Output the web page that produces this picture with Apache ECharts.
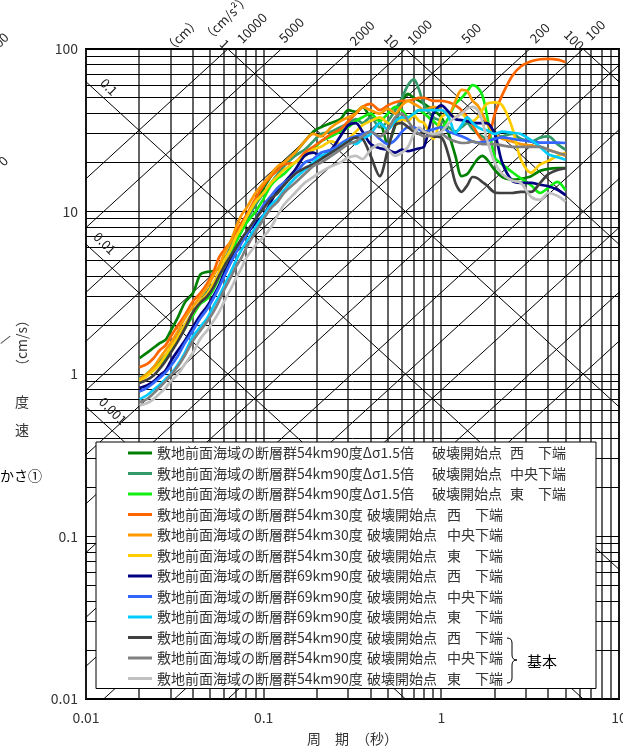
<!DOCTYPE html>
<html><head><meta charset="utf-8">
<script src="https://cdn.jsdelivr.net/npm/echarts@6/dist/echarts.min.js"></script>
<style>html,body{margin:0;padding:0;background:#fff}#c{width:623px;height:749px}</style>
</head><body><div id="c"></div>
<script>
const FONT = "'Noto Sans CJK JP', 'Noto Sans', sans-serif";
const TWO_PI = 2 * Math.PI;

// ---- data ----
const periods = [0.02,0.022,0.024,0.026,0.028,0.03,0.033,0.036,0.04,0.044,
 0.048,0.052,0.056,0.06,0.065,0.07,0.075,0.08,0.09,0.1,
 0.11,0.12,0.13,0.15,0.17,0.19,0.21,0.24,0.27,0.3,
 0.33,0.36,0.4,0.45,0.5,0.55,0.6,0.65,0.7,0.75,
 0.8,0.9,1.0,1.1,1.2,1.3,1.4,1.5,1.6,1.7,
 1.8,2.0,2.2,2.5,2.8,3.2,3.6,4.0,4.5,5.0];

const vDG = [1.25,1.35,1.45,1.55,1.62,1.85,2.25,2.75,3.15,4.1,
 4.25,4.3,4.45,5.0,5.8,7.0,8.2,9.3,11.5,14,
 16.5,18.5,20,23,27,31,33,35,37,42,
 41,44,38,36,26,34,48,53,50,48,
 46,42,38,30,22,16.5,17,19,21,22,
 21,18,16.3,15.7,15.9,16.5,17.8,18.3,18.5,18.5];
const vSG = [0.95,1.0,1.1,1.2,1.3,1.45,1.75,2.0,2.4,2.8,
 3.2,3.6,4.2,5.0,6.0,7.0,7.8,8.8,11,13,
 15,17,19,22,24,27,30,31,33,35,
 37,35,38,33,36,42,50,60,65,56,
 45,38,36,33,31,33,35,32,30,29,
 28,28,29,30,28,27,28.5,29,26,24];
const vLime = [0.92,1.0,1.08,1.15,1.25,1.4,1.65,1.9,2.3,2.7,
 2.9,3.3,3.9,4.6,5.3,6.5,7.5,8.5,10,12,
 14.5,16,17,20,22,24,27,29,31,33,
 36,38,40,36,40,44,42,38,40,42,
 40,36,33,38,46,50,55,60,58,52,
 40,21.5,19.5,17.5,16,14.5,13,14,15.2,13.5];
const vOR = [1.1,1.15,1.25,1.4,1.5,1.7,2.0,2.3,2.8,3.15,
 3.6,4.2,5.2,5.8,6.5,7.5,8.5,9.5,12,14.5,
 16.5,18,19.5,20,23,25,27,30,32,36,
 40,44,46,42,45,47,48,48,49,50,
 50,48,48,47,45,42,38,34,30,27.5,
 27,40,52,68,78,84,86.5,87,86,83];
const vOrange = [0.93,1.0,1.1,1.25,1.4,1.55,1.85,2.2,2.6,3.0,
 3.4,4.0,4.6,5.5,6.5,8.0,9.5,10.5,13,15,
 17,19,20,23,27,30,29,33,36,38,
 40,44,42,40,43,40,45,48,46,44,
 42,44,42,40,48,56,55,48,45,40,
 35,30,28,27,26,25.5,25,24,23,22];
const vYellow = [0.9,0.97,1.05,1.15,1.3,1.45,1.7,2.0,2.4,2.8,
 3.1,3.6,4.2,5.0,5.8,7.0,8.0,9.2,11.5,13,
 15,16.5,18,20,22,24,25,27,26,28,
 31,34,36,38,35,34,37,36,39,36,
 35,28,38,40,38,40,37,36,38,42,
 46,47,45,33,21,17.3,19.5,20.5,22,23];
const vNavy = [0.82,0.85,0.9,0.98,1.05,1.2,1.4,1.6,1.95,2.3,
 2.6,3.0,3.5,4.2,5.0,6.0,6.5,7.2,8.5,9.5,
 11.5,13.5,15,18,22,23,22,24,29,34,
 35,31,26,24.5,24,23,24,23.5,24,24.5,
 25,40,45,41,37,36.5,36,35,35,35,
 35,30,20,15.5,15,15,14.6,14.3,13.6,12.6];
const vBlue = [0.78,0.82,0.88,0.95,1.02,1.12,1.3,1.55,1.85,2.2,
 2.5,2.9,3.4,4.0,4.8,5.6,6.4,7.2,9.0,11,
 12.5,14,15,17,20,21,23,24,26,28,
 29,30,31,28,26,27.5,31,33,33,32,
 31,32,33,31,30,29,28,27,26.5,26.8,
 27,28,28.6,28,27.5,27,26.5,26.5,26.5,26.4];
const vSky = [0.7,0.74,0.8,0.86,0.93,1.0,1.15,1.35,1.7,1.95,
 2.2,2.6,3.0,3.5,4.2,5.0,5.8,6.5,8.0,9.5,
 11,12,13.5,16,18,20,22,23,25,27,
 26,28,30,35,32,36,38,38,40,42,
 42,42,42,38,30.5,34,38,35,33,32,
 31.6,30,31,30.5,30,27.5,25,22.5,21.6,20.8];
const vDGray = [0.88,0.92,0.98,1.08,1.2,1.35,1.6,1.9,2.4,2.75,
 3.0,3.4,4.0,4.6,5.3,6.0,6.8,7.5,9.0,10.5,
 12,13,14.5,17,18.5,19.5,21,23,25,27,
 28.5,28,22,16.5,24,34,35,33,31,30,
 31,29,28.6,22,15,13.2,14.5,16.3,16,15.2,
 14.5,13.1,13,13,13.2,13.2,15,17,18,18.5];
const vGray = [0.67,0.7,0.76,0.83,0.9,0.98,1.12,1.3,1.6,1.85,
 2.1,2.4,2.8,3.3,3.9,4.6,5.2,6.0,7.5,9,
 10.5,11.5,13,15,17,19,20,22,24,26,
 27,29,31,29,32,38,40,36,32,30,
 29,29.5,30,28,27,26.4,26.5,27,26.5,26,
 26,26,25.5,25,25,25,25,24,23,22.3];
const vLGray = [0.64,0.66,0.7,0.76,0.82,0.9,1.0,1.15,1.35,1.65,
 1.85,2.1,2.4,2.8,3.3,3.9,4.5,5.2,6.2,7.0,
 8.0,9.5,11,13,15,16.3,17.5,19,20,21.5,
 22,21,24,26,24,22,23,25,30,33,
 31,30,31,35,38,40,43,44,42,36,
 28,20,17,15.5,15,12.3,11.8,13,12.5,11.5];

const seriesNames = [
 '敷地前面海域の断層群54km90度Δσ1.5倍　破壊開始点 西　下端',
 '敷地前面海域の断層群54km90度Δσ1.5倍　破壊開始点 中央下端',
 '敷地前面海域の断層群54km90度Δσ1.5倍　破壊開始点 東　下端',
 '敷地前面海域の断層群54km30度　破壊開始点 西　下端',
 '敷地前面海域の断層群54km30度　破壊開始点 中央下端',
 '敷地前面海域の断層群54km30度　破壊開始点 東　下端',
 '敷地前面海域の断層群69km90度　破壊開始点 西　下端',
 '敷地前面海域の断層群69km90度　破壊開始点 中央下端',
 '敷地前面海域の断層群69km90度　破壊開始点 東　下端',
 '敷地前面海域の断層群54km90度　破壊開始点 西　下端',
 '敷地前面海域の断層群54km90度　破壊開始点 中央下端',
 '敷地前面海域の断層群54km90度　破壊開始点 東　下端'
];
const seriesValues = [vDG, vSG, vLime, vOR, vOrange, vYellow, vNavy, vBlue, vSky, vDGray, vGray, vLGray];
const seriesColors = ['#008000','#339966','#11ee11','#ff6600','#ff9900','#ffcc00','#000080','#3366ff','#00ccff','#404040','#808080','#c0c0c0'];

const xTickValues = [0.01, 0.1, 1, 10];
const xTickLabels = ['0.01', '0.1', '1', '10'];
const yTickValues = [0.01, 0.1, 1, 10, 100];
const yTickLabels = ['0.01', '0.1', '1', '10', '100'];
const gridMultipliers = [1,2,3,4,5,6,7,8,9];
const accelLevels = [1,2,5,10,20,50,100,200,500,1000,2000,5000,10000];   // cm/s2
const dispLevels = [0.001,0.01,0.1,1,10,100];                          // cm
const accelLabelLevels = [10000,5000,2000,1000,500,200,100];
const dispLeftLabelLevels = [0.1,0.01,0.001];
const dispLeftLabelTexts = ['0.1','0.01','0.001'];
const dispTopLabelLevels = [1,10,100];
const dispTopLabelTexts = ['1','10','100'];
const xTitle = '周　期　（秒）';

// ---- layout helpers (positions/styles only) ----
const accelLabelOffsets = [[24,-21],[10,-19],[10,-16],[14,-17],[12,-16],[10,-16],[12,-19]];
const dispLeftLabelOffsets = [[23,5],[19,-1],[27,4]];
const dispTopLabelOffsets = [[-3,-5],[-14,-8],[-9,-9]];

function lookup(vals, labels, v){
  for (let i=0;i<vals.length;i++) if (Math.abs(Math.log10(v)-Math.log10(vals[i]))<1e-6) return labels[i];
  return '';
}

const vGrid = []; [0.01,0.1,1].forEach(d => gridMultipliers.forEach(m => vGrid.push([d*m, 1]))); vGrid.push([10,1]);
const hGrid = []; [0.01,0.1,1,10].forEach(d => gridMultipliers.forEach(m => hGrid.push([1, d*m]))); hGrid.push([1,100]);

const labelDefs = [];
accelLabelLevels.forEach((a,i) => labelDefs.push({pt:[TWO_PI*100/a, 100], text:String(a), rot:45, off:accelLabelOffsets[i]}));
dispLeftLabelLevels.forEach((d,i) => labelDefs.push({pt:[0.01, TWO_PI*d/0.01], text:dispLeftLabelTexts[i], rot:-45, off:dispLeftLabelOffsets[i]}));
dispTopLabelLevels.forEach((d,i) => labelDefs.push({pt:[TWO_PI*d/100, 100], text:dispTopLabelTexts[i], rot:-45, off:dispTopLabelOffsets[i]}));
labelDefs.push({pt:[TWO_PI*1/100, 100], text:'（cm）', rot:45, off:[-46,-14]});
labelDefs.push({pt:[TWO_PI*1/100, 100], text:'（cm/s²）', rot:45, off:[-2,-31]});

const series = [];
series.push({
  type:'custom', name:'vgrid', z:1, silent:true, data:vGrid, clip:false,
  renderItem(params, api){
    const cs = params.coordSys; const x = Math.round(api.coord([api.value(0), 1])[0]);
    return {type:'line', shape:{x1:x, y1:cs.y, x2:x, y2:cs.y+cs.height}, style:{stroke:'#222', lineWidth:1.4}};
  }
});
series.push({
  type:'custom', name:'hgrid', z:1, silent:true, data:hGrid, clip:false,
  renderItem(params, api){
    const cs = params.coordSys; const y = Math.round(api.coord([1, api.value(1)])[1]-0.5)+0.5;
    return {type:'line', shape:{x1:cs.x, y1:y, x2:cs.x+cs.width, y2:y}, style:{stroke:'#000', lineWidth:1}};
  }
});
accelLevels.forEach(a => series.push({
  type:'line', name:'A'+a, z:1, silent:true, clip:true, symbol:'none', animation:false,
  data:[[1e-3, a*1e-3/TWO_PI],[1e2, a*1e2/TWO_PI]],
  lineStyle:{color:'#000', width:1}
}));
dispLevels.forEach(d => series.push({
  type:'line', name:'D'+d, z:1, silent:true, clip:true, symbol:'none', animation:false,
  data:[[1e-3, TWO_PI*d/1e-3],[1e2, TWO_PI*d/1e2]],
  lineStyle:{color:'#000', width:1}
}));
series.push({
  type:'custom', name:'diaglabels', z:2, silent:true, clip:false,
  data: labelDefs.map(d => d.pt),
  renderItem(params, api){
    const d = labelDefs[params.dataIndex]; const p = api.coord(d.pt);
    return {type:'text', x:p[0]+d.off[0], y:p[1]+d.off[1], rotation:d.rot*Math.PI/180,
      style:{text:d.text, fontSize:13, fontFamily:FONT, fill:'#222', align:'center', verticalAlign:'middle'}};
  }
});
seriesNames.forEach((n,i) => series.push({
  type:'line', name:n, z:3, symbol:'none', showSymbol:false, smooth:0.3, animation:false,
  color: seriesColors[i],
  data: periods.map((t,j) => [t, seriesValues[i][j]]),
  lineStyle:{color:seriesColors[i], width:2.7}
}));

const rich = {
  a1:{width:275, fontSize:14, fontFamily:FONT, color:'#333', lineHeight:15},
  a2:{width:210, fontSize:14, fontFamily:FONT, color:'#333', lineHeight:15},
  b1:{width:78, fontSize:14, fontFamily:FONT, color:'#333', lineHeight:15},
  b2:{width:80, fontSize:14, fontFamily:FONT, color:'#333', lineHeight:15},
  c:{width:28, fontSize:14, fontFamily:FONT, color:'#333', lineHeight:15},
  d:{fontSize:14, fontFamily:FONT, color:'#333', lineHeight:15}
};

const braceStyle = {stroke:'#000', lineWidth:1, fill:null};
const option = {
  animation:false,
  backgroundColor:'#fff',
  grid:{left:86, top:49, width:533, height:650, show:true, borderColor:'#000', borderWidth:2, backgroundColor:'#fff', containLabel:false, outerBoundsMode:'none'},
  xAxis:{type:'log', logBase:10, min:0.01, max:10,
    name:xTitle, nameLocation:'middle', nameGap:33,
    nameTextStyle:{fontSize:14, fontFamily:FONT, color:'#333'},
    axisLine:{show:false}, axisTick:{show:false}, splitLine:{show:false},
    axisLabel:{margin:12, fontSize:14, fontFamily:FONT, color:'#333', showMinLabel:true, showMaxLabel:true,
      formatter:v => lookup(xTickValues, xTickLabels, v)}},
  yAxis:{type:'log', logBase:10, min:0.01, max:100,
    axisLine:{show:false}, axisTick:{show:false}, splitLine:{show:false},
    axisLabel:{margin:8, fontSize:14, fontFamily:FONT, color:'#333', showMinLabel:true, showMaxLabel:true,
      formatter:v => lookup(yTickValues, yTickLabels, v)}},
  legend:{
    orient:'vertical', left:96, top:442, z:20, selectedMode:false,
    padding:[3.5, 30, 2.5, 32],
    backgroundColor:'#fff', borderColor:'#000', borderWidth:1, borderRadius:0,
    itemWidth:24, itemHeight:3, itemGap:5.5, icon:'rect',
    data: seriesNames,
    textStyle:{fontSize:14, fontFamily:FONT, color:'#333', lineHeight:15, rich:rich},
    formatter: name => {
      const m = name.match(/^(.*度(?:Δσ1\.5倍)?)\s*(破壊開始点)\s*(西|中央|東)\s*(下端)$/);
      const w = name.indexOf('Δσ') >= 0;
      return '{' + (w?'a1':'a2') + '|' + m[1] + '}{' + (w?'b1':'b2') + '|' + m[2] + '}{c|' + m[3] + '}{d|' + m[4] + '}';
    }
  },
  graphic:[
    {type:'text', x:22, y:430, style:{text:'速', fontSize:14, fontFamily:FONT, fill:'#333', align:'center', verticalAlign:'middle'}},
    {type:'text', x:22, y:402, style:{text:'度', fontSize:14, fontFamily:FONT, fill:'#333', align:'center', verticalAlign:'middle'}},
    {type:'text', x:22, y:343, rotation:Math.PI/2, style:{text:'（cm/s）', fontSize:14, fontFamily:FONT, fill:'#333', align:'center', verticalAlign:'middle'}},
    {type:'text', x:6, y:339, rotation:-0.6, style:{text:'/', fontSize:12, fontFamily:FONT, fill:'#333', align:'center', verticalAlign:'middle'}},
    {type:'text', x:0, y:476, style:{text:'かさ①', fontSize:14, fontFamily:FONT, fill:'#000', align:'left', verticalAlign:'middle'}},
    {type:'text', x:1, y:40, rotation:Math.PI/4, style:{text:'00', fontSize:13, fontFamily:FONT, fill:'#222', align:'center', verticalAlign:'middle'}},
    {type:'text', x:3, y:161, rotation:Math.PI/4, style:{text:'0', fontSize:13, fontFamily:FONT, fill:'#222', align:'center', verticalAlign:'middle'}},
    {type:'bezierCurve', z:30, shape:{x1:507,y1:638,x2:512,y2:643,cpx1:512,cpy1:638}, style:braceStyle},
    {type:'line', z:30, shape:{x1:512,y1:643,x2:512,y2:655}, style:braceStyle},
    {type:'bezierCurve', z:30, shape:{x1:512,y1:655,x2:517,y2:660,cpx1:512,cpy1:660}, style:braceStyle},
    {type:'bezierCurve', z:30, shape:{x1:517,y1:660,x2:512,y2:665,cpx1:512,cpy1:660}, style:braceStyle},
    {type:'line', z:30, shape:{x1:512,y1:665,x2:512,y2:678}, style:braceStyle},
    {type:'bezierCurve', z:30, shape:{x1:512,y1:678,x2:507,y2:683,cpx1:512,cpy1:683}, style:braceStyle},
    {type:'text', z:30, x:542, y:661, style:{text:'基本', fontSize:15, fontFamily:FONT, fill:'#000', align:'center', verticalAlign:'middle'}}
  ],
  series: series
};
const chart = echarts.init(document.getElementById('c'), null, {renderer:'canvas', width:623, height:749});
chart.setOption(option);
</script></body></html>
